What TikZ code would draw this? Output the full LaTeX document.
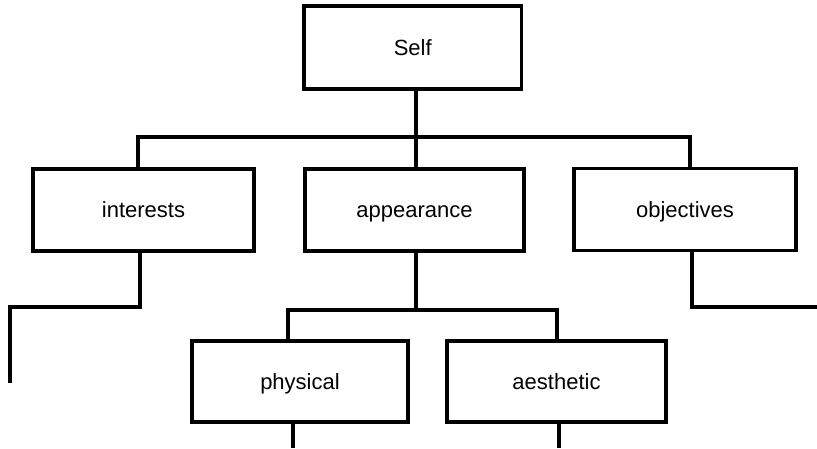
\documentclass[tikz,border=0pt]{standalone}
\usepackage{fontspec}
\setmainfont{Liberation Sans}
\begin{document}
\begin{tikzpicture}[x=1pt,y=-1pt,
  box/.style={draw=black, line width=3.5pt, fill=white, inner sep=0pt, minimum height=82pt, text height=15pt, text depth=0pt, font=\fontsize{22}{26}\selectfont},
  conn/.style={draw=black, line width=3.5pt, line cap=rect, line join=miter}]
\useasboundingbox (0,0) rectangle (817,448);
% nodes
\node[box, minimum width=217.5pt, minimum height=83pt] (self) at (412.75,47.5) {Self};
\node[box, minimum width=221pt] (interests) at (143.5,210) {interests};
\node[box, minimum width=219pt] (appearance) at (414.5,210) {appearance};
\node[box, minimum width=222pt] (objectives) at (685,209.5) {objectives};
\node[box, minimum width=216pt, minimum height=81pt] (physical) at (300,381.5) {physical};
\node[box, minimum width=219pt, minimum height=81pt] (aesthetic) at (556.5,381.5) {aesthetic};
% junction coordinates
\coordinate (tS) at (416,137);
\coordinate (tL) at (138,137);
\coordinate (tR) at (690,137);
\coordinate (iD) at (140,307);
\coordinate (iL) at (10,307);
\coordinate (iE) at (10,381);
\coordinate (oD) at (692,307);
\coordinate (oE) at (817,307);
\coordinate (aD) at (416,310);
\coordinate (aL) at (288,310);
\coordinate (aR) at (557,310);
\coordinate (pE) at (293,448);
\coordinate (eE) at (559,448);
% connectors
\draw[conn] (self.south -| tS) -- (appearance.north -| tS);
\draw[conn] (interests.north -| tL) -- (tL) -- (tR) -- (objectives.north -| tR);
\draw[conn] (interests.south -| iD) -- (iD) -- (iL) -- (iE);
\draw[conn, line cap=butt] (objectives.south -| oD) -- (oD) -- (oE);
\draw[conn] (appearance.south -| aD) -- (aD);
\draw[conn] (physical.north -| aL) -- (aL) -- (aR) -- (aesthetic.north -| aR);
\draw[conn, line cap=butt] (physical.south -| pE) -- (pE);
\draw[conn, line cap=butt] (aesthetic.south -| eE) -- (eE);
\end{tikzpicture}
\end{document}
